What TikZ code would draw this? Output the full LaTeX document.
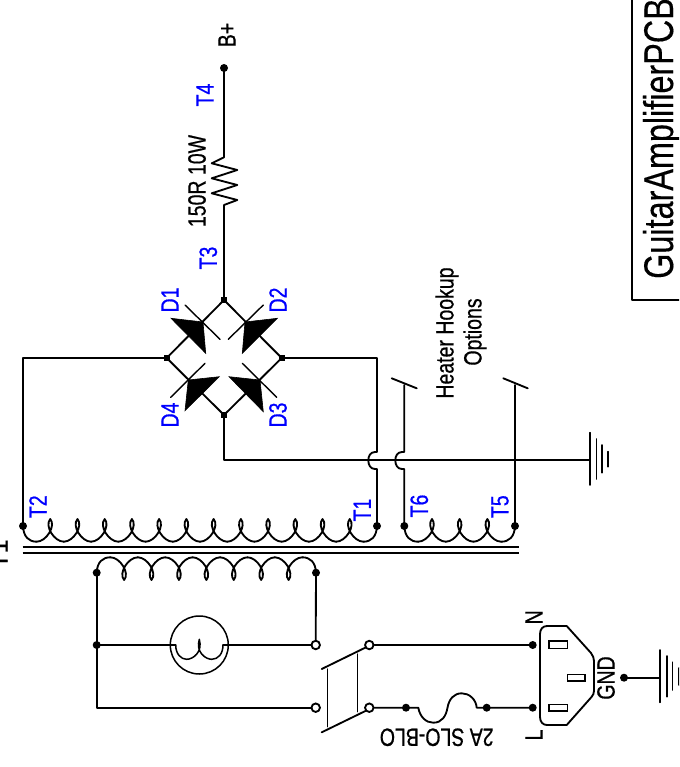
\documentclass[tikz,border=0pt]{standalone}
\usepackage{graphicx}
\usepackage{fontspec}
\setmainfont{Liberation Sans}[FakeBold=0.7]
\newfontfamily\titlefont{Liberation Sans}[FakeBold=0.3]
\definecolor{lblue}{RGB}{0,0,255}
\newcommand\sq[1]{\scalebox{0.78}[1]{#1}}
\newcommand\coil[6]{%
  % x0, x1, n, ydot, ybase, ytip
  \pgfmathsetmacro\cp{(#2-#1)/#3}%
  \pgfmathsetmacro\cq{#6+0.3*(#5-#6)}%
  \pgfmathsetmacro\cr{#4+0.7*(#5-#4)}%
  \pgfmathtruncatemacro\cn{#3-1}%
  \draw[wire] (#1,#4) .. controls (#1+0.5,\cr) and (#1+6,#5) .. (#1+\cp/2,#5);
  \draw[wire] (#2,#4) .. controls (#2-0.5,\cr) and (#2-6,#5) .. (#2-\cp/2,#5);
  \foreach \k in {1,...,\cn}{%
    \pgfmathsetmacro\xc{#1+\k*\cp}%
    \draw[wire] (\xc-\cp/2,#5) .. controls (\xc-4,#5) and (\xc+6,\cq) .. (\xc,#6)
       .. controls (\xc-6,\cq) and (\xc+4,#5) .. (\xc+\cp/2,#5);
  }%
}
\tikzset{
  wire/.style={line width=1.85pt,line cap=round,line join=round},
  thin wire/.style={line width=1.4pt,line cap=round},
  dot/.style={circle,fill=black,inner sep=0pt,minimum size=8pt},
  junction/.style={rectangle,fill=black,inner sep=0pt,minimum size=6pt},
  open/.style={circle,draw=black,fill=white,line width=1.85pt,inner sep=0pt,minimum size=8.5pt},
  lbl/.style={rotate=90,inner sep=0pt,font=\fontsize{25}{25}\selectfont},
  blbl/.style={lbl,text=lblue},
  diode/.style={fill=black,draw=black,line width=0.6pt,line join=miter}
}
\begin{document}
\begin{tikzpicture}[x=1pt,y=-1pt]
\useasboundingbox (0,0) rectangle (679,767);
\clip (0,0) rectangle (679,767);
\fill[white] (0,0) rectangle (679,767);

% title
\draw[wire] (632,-3) -- (632,300) -- (682,300);
\node[lbl,font=\titlefont\fontsize{41.5}{41.5}\selectfont,anchor=base west] (title) at (673,279) {\sq{GuitarAmplifierPCB}};

% bridge junctions
\node[junction] (bt) at (224,300) {};
\node[junction] (bl) at (166.7,358) {};
\node[junction] (br) at (281.7,358) {};
\node[junction] (bb) at (224,415) {};
\draw[wire] (bt.center) -- (bl.center) -- (bb.center) -- (br.center) -- cycle;

% diodes
\draw[diode] (171,318.3) -- (203,322) -- (205.7,353.3) -- cycle;
\draw[diode] (277.3,318.3) -- (245,322) -- (242.3,353.3) -- cycle;
\draw[diode] (229,376.7) -- (260,380) -- (263.3,411.7) -- cycle;
\draw[diode] (219.3,376.7) -- (188.3,380) -- (185,410.7) -- cycle;
\draw[thin wire] (185,305) -- (220,339.3);
\draw[thin wire] (263.3,305) -- (228.3,339.3);
\draw[thin wire] (242.3,363.3) -- (276.7,397.3);
\draw[thin wire] (205,363.3) -- (170.7,397.3);

% B+ rail and resistor
\node[dot] (bplus) at (224,68) {};
\coordinate (ra) at (224,157.3);
\coordinate (rb) at (224,205);
\draw[wire] (bplus.center) -- (ra) -- (211.7,163.3) -- (237.3,170) -- (211.7,178.3) -- (237.3,185)
  -- (211.7,193.3) -- (237.3,200) -- (rb) -- (bt.center);

% transformer secondary
\node[dot] (t2) at (23,526) {};
\node[dot] (t1) at (377,526) {};
\node[dot] (t6) at (404.3,526) {};
\node[dot] (t5) at (515,526) {};
\coil{23}{377}{13}{526}{541.7}{519}
\coil{404.3}{515}{4}{526}{541.7}{519}

% core
\coordinate (c1) at (22.5,547.3);
\coordinate (c2) at (519,547.3);
\coordinate (c3) at (22.5,552.7);
\coordinate (c4) at (519,552.7);
\draw[line width=2pt] (c1) -- (c2);
\draw[line width=2pt] (c3) -- (c4);

% primary
\node[dot] (p1) at (96.7,572.7) {};
\node[dot] (p2) at (316,572.7) {};
\coil{96.7}{316}{8}{572.7}{557.3}{580}

% secondary wires
\draw[wire] (bl.center) -- (23,358) -- (t2.center);
\draw[wire] (br.center) -- (377,358) -- (377,452) -- (375,452)
  .. controls (370.5,452) and (368.3,456) .. (368.3,460.3)
  .. controls (368.3,465) and (370.5,469) .. (375,469) -- (377,469) -- (t1.center);
\coordinate (s6) at (404.3,385);
\coordinate (s5) at (515,385);
\draw[wire] (s6) -- (404.3,452) -- (402,452)
  .. controls (397.5,452) and (395.3,456) .. (395.3,460.3)
  .. controls (395.3,465) and (397.5,469) .. (402,469) -- (404.3,469) -- (t6.center);
\draw[wire] (s5) -- (t5.center);
\draw[wire] (391.7,378.3) -- (416.7,388.3);
\draw[wire] (503.3,378.3) -- (527.7,388.3);

% ground on bridge
\coordinate (g1) at (590,460.3);
\draw[wire] (bb.center) -- (224,460.3) -- (g1);
\draw[wire] (590,432.7) -- (590,485);
\draw[wire] (596.5,439) -- (596.5,479);
\draw[wire] (602.3,445) -- (602.3,472.7);
\draw[wire] (608.3,451.7) -- (608.3,466.7);

% primary circuit
\node[dot] (jn) at (96.7,645) {};
\node[open] (s1) at (315.7,645) {};
\node[open] (s2) at (315.7,707.7) {};
\node[open] (s3) at (369.3,645) {};
\node[open] (s4) at (369.3,707.7) {};
\draw[wire] (p1.center) -- (jn.center) -- (96.7,707.7) -- (s2);
\draw[wire] (p2.center) -- (s1);

% lamp
\node[circle,draw=black,line width=1.5pt,minimum size=58pt,inner sep=0pt] (lamp) at (199.3,645) {};
\draw[wire] (jn.center) -- (175.7,645);
\draw[wire] (223,645) -- (s1);
\draw[wire,line width=1.5pt] (175.7,645) .. controls (175.7,654) and (181,659.3) .. (186.7,659.3)
  .. controls (193,659.3) and (203,652) .. (199.3,639.3)
  .. controls (195.5,652) and (205.5,659.3) .. (211.7,659.3)
  .. controls (218,659.3) and (223,654) .. (223,645);

% switch
\draw[wire] (321.7,669) -- (366,647.3);
\draw[wire] (321.7,732.3) -- (366,710.7);
\draw[thin wire] (327.7,669) -- (327.7,726.7);
\draw[thin wire] (357.3,654) -- (357.3,711.7);

% mains
\node[dot] (n1) at (532.7,645) {};
\node[dot] (l1) at (532.7,707.7) {};
\node[dot] (f1) at (406,707.7) {};
\node[dot] (f2) at (486.7,707.7) {};
\draw[wire] (s3) -- (n1.center);
\draw[wire] (s4) -- (f1.center) -- (418.3,707.7)
  .. controls (420,717) and (426,722.7) .. (433.3,722.7)
  .. controls (442,722.7) and (446,716) .. (447.5,707.7)
  .. controls (449,699) and (454,693.3) .. (461.7,693.3)
  .. controls (469,693.3) and (476,699) .. (476.7,707.7) -- (f2.center) -- (l1.center);

% plug
\draw[wire] (540,634) .. controls (540,629) and (543,626) .. (547,626) -- (566.7,626) -- (591,653)
  .. controls (593,656) and (594,658) .. (594,661) -- (594,691)
  .. controls (594,693.5) and (593,695) .. (591.5,697) -- (566.7,725) -- (547,725)
  .. controls (543,725) and (540,722) .. (540,717) -- cycle;
\draw[line width=1.5pt] (549,641) rectangle (567.3,648.3);
\draw[line width=1.5pt] (549,704.3) rectangle (567.3,711);
\draw[line width=1.5pt] (567.3,674.3) rectangle (585,681);

% earth
\node[dot] (ge) at (624,677.7) {};
\coordinate (g2) at (660,677.7);
\draw[wire] (ge.center) -- (g2);
\draw[wire] (660,650) -- (660,702.3);
\draw[wire] (666.7,656) -- (666.7,696.7);
\draw[wire] (672.5,662.3) -- (672.5,690);
\draw[wire] (678.7,668) -- (678.7,685);

% labels
\node[lbl] (lbp) at (227,35) {\sq{B+}};
\node[blbl] (lt4) at (205,95) {\sq{T4}};
\node[lbl] (lr) at (197,181) {\sq{150R 10W}};
\node[blbl] (lt3) at (208.3,258) {\sq{T3}};
\node[blbl] (ld1) at (170,300) {\sq{D1}};
\node[blbl] (ld2) at (278,300) {\sq{D2}};
\node[blbl] (ld3) at (278,415) {\sq{D3}};
\node[blbl] (ld4) at (170,415) {\sq{D4}};
\node[blbl] (lt2) at (38,506.7) {\sq{T2}};
\node[blbl] (lt1) at (362.3,510) {\sq{T1}};
\node[blbl] (lt6) at (419.3,506) {\sq{T6}};
\node[blbl] (lt5) at (500,506.7) {\sq{T5}};
\node[lbl] (lh1) at (447,333) {\sq{Heater Hookup}};
\node[lbl] (lh2) at (475,332) {\sq{Options}};
\node[lbl] (ln) at (534,617.3) {\sq{N}};
\node[lbl] (ll) at (534,735) {\sq{L}};
\node[lbl] (lgnd) at (606,678) {\sq{GND}};
\node[lbl,rotate=90] (lfuse) at (436.7,737.3) {\sq{2A SLO-BLO}};
\node[lbl,anchor=base] (ltx) at (7.5,554) {T1};
\end{tikzpicture}
\end{document}
